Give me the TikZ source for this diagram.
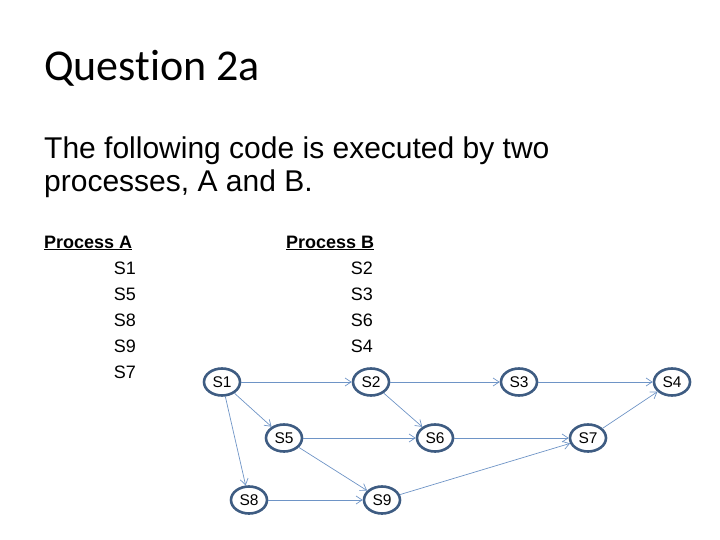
\documentclass[tikz,border=0pt]{standalone}
\usepackage{fontspec}
\setmainfont{Liberation Sans}
\newfontfamily\titlefont[Ligatures=NoCommon]{Carlito}
\usetikzlibrary{shapes.geometric,arrows.meta}
\definecolor{stateborder}{RGB}{62,92,130}
\definecolor{edgeblue}{RGB}{110,148,198}
\tikzset{
  state/.style  = {ellipse, draw=stateborder, line width=2.6pt, fill=white,
                   minimum width=36pt, minimum height=27pt, inner sep=0pt,
                   font=\fontsize{15.5}{17}\selectfont},
  edge/.style   = {draw=edgeblue, line width=0.7pt,
                   -{Straight Barb[length=6pt,width=8pt]}},
  listtxt/.style = {anchor=base east, inner sep=0pt, font=\fontsize{18}{20}\selectfont},
  headtxt/.style = {anchor=base west, inner sep=0pt, font=\bfseries\fontsize{18}{20}\selectfont}
}
\begin{document}
\begin{tikzpicture}[x=1pt, y=-1pt]
  \useasboundingbox (0,0) rectangle (720,540);

  % heading and question text
  \node[anchor=base west, inner sep=0pt, font=\titlefont\fontsize{44}{48}\selectfont]
    (title) at (44,81) {Question 2a};
  \node[anchor=base west, inner sep=0pt, font=\fontsize{30}{34}\selectfont]
    (line1) at (44,159) {The following code is executed by two};
  \node[anchor=base west, inner sep=0pt, font=\fontsize{30}{34}\selectfont]
    (line2) at (44,192) {processes, A and B.};

  % the two processes
  \node[headtxt] (procA) at (44,248)  {\underline{Process A}};
  \node[headtxt] (procB) at (286,248) {\underline{Process B}};
  \foreach \s [count=\i] in {S1,S5,S8,S9,S7}
    \node[listtxt] (a\i) at (136,{248+26*\i}) {\s};
  \foreach \s [count=\i] in {S2,S3,S6,S4}
    \node[listtxt] (b\i) at (373,{248+26*\i}) {\s};

  % precedence graph
  \node[state] (s1) at (222,382) {S1};
  \node[state] (s2) at (371,382) {S2};
  \node[state] (s3) at (519,382) {S3};
  \node[state] (s4) at (672,382) {S4};
  \node[state] (s5) at (284,438) {S5};
  \node[state] (s6) at (435,438) {S6};
  \node[state] (s7) at (588,438) {S7};
  \node[state] (s8) at (249,500) {S8};
  \node[state] (s9) at (382,500) {S9};

  \foreach \from/\to in {s1/s2, s2/s3, s3/s4, s1/s5, s1/s8, s2/s6,
                         s5/s6, s5/s9, s6/s7, s8/s9, s9/s7, s7/s4}
    \draw[edge] (\from) -- (\to);
\end{tikzpicture}
\end{document}
